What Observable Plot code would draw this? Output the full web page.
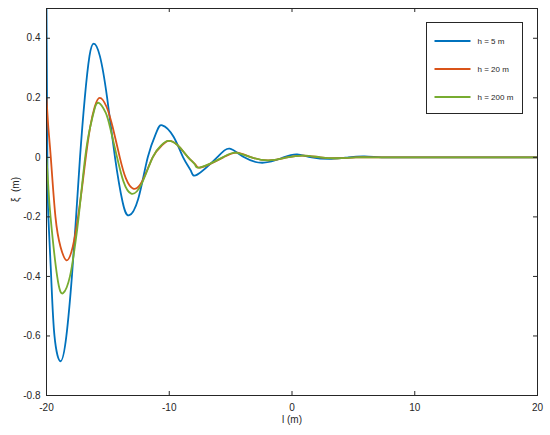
<!DOCTYPE html>
<html>
<head>
<meta charset="utf-8">
<script src="https://cdn.jsdelivr.net/npm/d3@7"></script>
<script src="https://cdn.jsdelivr.net/npm/@observablehq/plot@0.6"></script>
<style>
  html, body { margin: 0; padding: 0; background: #fff; }
</style>
</head>
<body>
<div id="chart"></div>
<script>
// ---- data ----
const seriesNames = ["h = 5 m", "h = 20 m", "h = 200 m"];
const seriesColors = ["#0072BD", "#D95319", "#77AC30"];

const lH5  = [-20, -19.93, -19.85, -19.62, -19.35, -18.86, -18.38, -17.93, -17.59, -17.27, -16.88, -16.5, -16.15, -15.65, -15.06, -14.42, -13.8, -13.29, -12.53, -11.75, -11.04, -10.57, -9.66, -8.87, -8.24, -7.72, -6.1, -5.07, -3.89, -2.3, -0.69, 0.42, 1.6, 3.2, 4.6, 5.9, 7.3, 9, 12, 16, 20];
const xiH5 = [0.5, 0, -0.2, -0.4, -0.6, -0.685, -0.6, -0.4, -0.2, 0, 0.2, 0.34, 0.382, 0.34, 0.2, 0, -0.15, -0.195, -0.14, 0, 0.085, 0.1075, 0.07, 0, -0.045, -0.058, 0, 0.029, 0, -0.018, 0, 0.01, 0, -0.005, 0, 0.003, 0, 0, 0, 0, 0];

const lH20  = [-20, -19.85, -19.65, -19.27, -18.86, -18.37, -17.86, -17.43, -17.1, -16.8, -16.45, -16.07, -15.66, -15.11, -14.6, -14.03, -13.54, -12.94, -12.2, -11.35, -10.6, -10.04, -9.3, -8.46, -7.85, -7.32, -5.6, -4.47, -3.3, -1.9, -0.4, 0.94, 2.3, 3.7, 5.2, 7, 10, 14, 20];
const xiH20 = [0.2, 0.1, 0, -0.2, -0.3, -0.346, -0.3, -0.2, -0.1, 0, 0.1, 0.17, 0.2, 0.17, 0.1, 0, -0.07, -0.105, -0.08, 0, 0.04, 0.055, 0.04, 0, -0.025, -0.033, 0, 0.016, 0, -0.01, 0, 0.006, 0, -0.003, 0, 0, 0, 0, 0];

const lH200  = [-20, -19.85, -19.67, -19.13, -18.64, -18.09, -17.69, -17.38, -16.85, -16.45, -16.1, -15.74, -15.18, -14.82, -14.25, -13.74, -13.1, -12.26, -11.35, -10.66, -10.1, -9.3, -8.46, -7.9, -7.4, -5.65, -4.6, -3.3, -1.9, -0.4, 0.94, 2.3, 3.7, 5.2, 7, 10, 14, 20];
const xiH200 = [0, -0.1, -0.2, -0.4, -0.456, -0.4, -0.3, -0.2, 0, 0.1, 0.16, 0.183, 0.15, 0.1, 0, -0.08, -0.122, -0.09, 0, 0.04, 0.055, 0.04, 0, -0.025, -0.033, 0, 0.016, 0, -0.01, 0, 0.006, 0, -0.003, 0, 0, 0, 0, 0];

const xTicks = [-20, -10, 0, 10, 20];
const yTicks = [-0.8, -0.6, -0.4, -0.2, 0, 0.2, 0.4];
const xLabel = "l (m)";
const yLabel = "ξ  (m)";

// ---- build table ----
const rows = [];
[[lH5, xiH5], [lH20, xiH20], [lH200, xiH200]].forEach(([ls, xs], i) => {
  ls.forEach((l, j) => rows.push({series: seriesNames[i], l, xi: xs[j]}));
});

const fmt = d => String(d);
const axisColor = "#262626";
const W = 550, H = 435, mL = 46, mR = 13, mT = 8, mB = 40;
const frameW = W - mL - mR, frameH = H - mT - mB, tick = 4;

const chart = Plot.plot({
  width: W,
  height: H,
  marginLeft: mL,
  marginRight: mR,
  marginTop: mT,
  marginBottom: mB,
  style: {fontFamily: "'Liberation Sans', Arial, sans-serif", fontSize: "10px", color: axisColor, background: "#fff"},
  x: {domain: [-20, 20]},
  y: {domain: [-0.8, 0.5]},
  color: {domain: seriesNames, range: seriesColors},
  marks: [
    Plot.line(rows, {x: "l", y: "xi", stroke: "series", z: "series", curve: "natural", strokeWidth: 1.8, clip: true}),
    // inward ticks on all four sides
    Plot.ruleX(xTicks, {x: d => d, insetTop: frameH - tick, stroke: axisColor}),
    Plot.ruleX(xTicks, {x: d => d, insetBottom: frameH - tick, stroke: axisColor}),
    Plot.ruleY(yTicks, {y: d => d, insetRight: frameW - tick, stroke: axisColor}),
    Plot.ruleY(yTicks, {y: d => d, insetLeft: frameW - tick, stroke: axisColor}),
    Plot.frame({stroke: axisColor}),
    Plot.axisX(xTicks, {anchor: "bottom", tickSize: 0, tickPadding: 8, tickFormat: fmt, label: null}),
    Plot.axisY(yTicks, {anchor: "left", tickSize: 0, tickPadding: 6, tickFormat: fmt, label: null}),
    Plot.text([xLabel], {frameAnchor: "bottom", dy: 27, text: d => d, fontSize: 10, fill: axisColor}),
    Plot.text([yLabel], {frameAnchor: "left", dx: -31, rotate: -90, text: d => d, fontSize: 10, fill: axisColor})
  ]
});

// legend box inside the plot area (top right)
const svg = d3.select(chart);
const lg = svg.append("g").attr("transform", "translate(426.5,22.5)");
lg.append("rect").attr("width", 96).attr("height", 91).attr("fill", "#fff").attr("stroke", axisColor).attr("stroke-width", 1);
seriesNames.forEach((name, i) => {
  const y = 18.5 + i * 28;
  lg.append("line").attr("x1", 8).attr("x2", 44).attr("y1", y).attr("y2", y)
    .attr("stroke", seriesColors[i]).attr("stroke-width", 1.8);
  lg.append("text").attr("x", 51).attr("y", y).attr("dy", "0.32em")
    .attr("text-anchor", "start")
    .attr("font-size", 8).attr("fill", axisColor).text(name);
});

document.getElementById("chart").appendChild(chart);
</script>
</body>
</html>
